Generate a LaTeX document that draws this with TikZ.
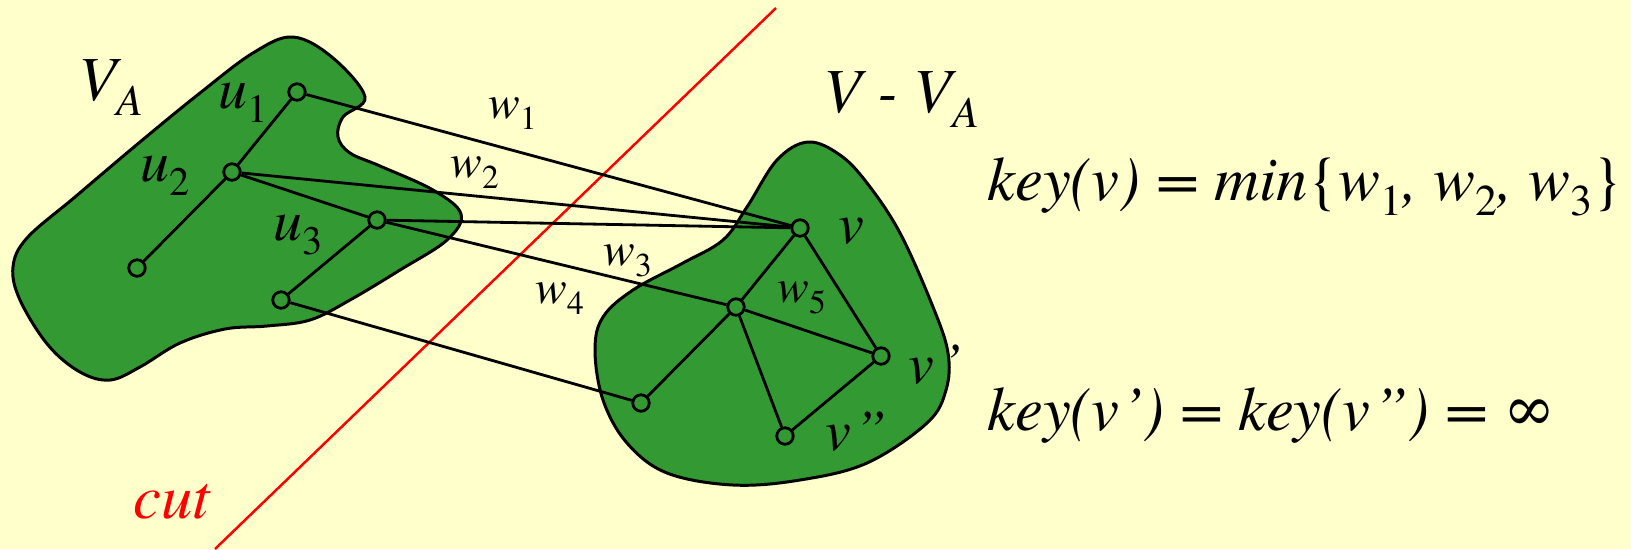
\documentclass[tikz,border=0pt]{standalone}
\usepackage{fontspec}
\setmainfont{texgyretermes}[Extension=.otf, UprightFont=*-regular, ItalicFont=*-italic, BoldFont=*-bold, BoldItalicFont=*-bolditalic]
\usepackage{tikz}
\usetikzlibrary{positioning}
\definecolor{slideYellow}{RGB}{255,255,204}
\definecolor{setGreen}{RGB}{51,153,51}
\definecolor{cutRed}{RGB}{255,0,0}
\newcommand{\sbs}[2]{\raisebox{-0.25em}{\fontsize{#1}{#1}\selectfont #2}}

\begin{document}
\begin{tikzpicture}[x=0.02cm, y=-0.02cm,
  every node/.style={inner sep=0pt},
  vtx/.style={draw, circle, minimum size=0.33cm, line width=1.6pt},
  edge/.style={line width=1.6pt},
  blob/.style={fill=setGreen, draw=black, line width=1.7pt},
  biglbl/.style={anchor=base west, font=\itshape\fontsize{35.7}{40}\selectfont},
  ptlbl/.style={anchor=base west, font=\itshape\fontsize{33}{38}\selectfont},
  wlbl/.style={anchor=base west, font=\itshape\fontsize{27}{30}\selectfont}]
\fill[slideYellow] (0,0) rectangle (1631,549);
\useasboundingbox (0,0) rectangle (1631,549);

% the two vertex sets
\filldraw[blob] plot[smooth cycle, tension=0.6] coordinates {
  (293,37) (333,58) (365,97) (343,117) (338,137) (350,153) (380,166)
  (433,190) (461,214) (447,240) (400,270) (350,300) (310,320) (267,326)
  (225,329) (180,343) (140,367) (110,380) (80,372) (48,345) (20,300)
  (13,267) (27,238) (75,197) (140,142) (200,93) (253,53)};
\filldraw[blob] plot[smooth cycle, tension=0.6] coordinates {
  (808,142) (840,155) (867,183) (900,233) (933,307) (948,353) (946,390)
  (927,423) (867,463) (800,480) (733,485) (667,473) (627,443) (603,400)
  (595,350) (603,317) (633,290) (683,263) (723,240) (747,207) (777,160)};

% the cut
\draw[cutRed, line width=1.4pt] (215,549) -- (776,8);

% vertices
\node[vtx] (u1) at (297,92) {};
\node[vtx] (u2) at (232,172) {};
\node[vtx] (a1) at (137,268) {};
\node[vtx] (u3) at (377,220) {};
\node[vtx] (a2) at (281,300) {};
\node[vtx] (v) at (800,228) {};
\node[vtx] (m) at (736,307) {};
\node[vtx] (v1) at (881,356) {};
\node[vtx] (b) at (641,403) {};
\node[vtx] (v2) at (785,436) {};

% edges
\draw[edge] (u1) -- (u2);
\draw[edge] (u2) -- (a1);
\draw[edge] (u2) -- (u3);
\draw[edge] (u3) -- (a2);
\draw[edge] (u1) -- (v);
\draw[edge] (u2) -- (v);
\draw[edge] (u3) -- (v);
\draw[edge] (u3) -- (m);
\draw[edge] (a2) -- (b);
\draw[edge] (v) -- (m);
\draw[edge] (v) -- (v1);
\draw[edge] (m) -- (v1);
\draw[edge] (m) -- (b);
\draw[edge] (m) -- (v2);
\draw[edge] (v2) -- (v1);

% labels
\node[biglbl] (lVA) at (78,100) {V\sbs{25}{A}};
\node[biglbl] (lrest) at (823,112) {V - V\sbs{25}{A}};
\node[ptlbl] (lu1) at (218,108) {u\sbs{23}{\upshape 1}};
\node[ptlbl] (lu2) at (140,181) {u\sbs{23}{\upshape 2}};
\node[ptlbl] (lu3) at (273,240) {u\sbs{23}{\upshape 3}};
\node[ptlbl] (lv) at (838,243) {v};
\node[ptlbl] (lv1) at (908,383) {v\kern0.15em’};
\node[ptlbl] (lv2) at (825,450) {v\kern0.05em”};
\node[wlbl] (lw1) at (488,118) {w\sbs{19}{\upshape 1}};
\node[wlbl] (lw2) at (450,177) {w\sbs{19}{\upshape 2}};
\node[wlbl] (lw3) at (603,265) {w\sbs{19}{\upshape 3}};
\node[wlbl] (lw4) at (535,303) {w\sbs{19}{\upshape 4}};
\node[wlbl] (lw5) at (777,302) {w\sbs{19}{\upshape 5}};
\node[biglbl, text=cutRed] (lcut) at (133,518) {cut};
\node[biglbl] (keyv) at (987,200) {key(v) = min{\upshape\{}w\sbs{25}{\upshape 1}, w\sbs{25}{\upshape 2}, w\sbs{25}{\upshape 3}{\upshape\}}};
\node[biglbl] (keyrest) at (987,430) {key(v\kern0.05em’) = key(v\kern0.05em”) = {\upshape ∞}};
\end{tikzpicture}
\end{document}
